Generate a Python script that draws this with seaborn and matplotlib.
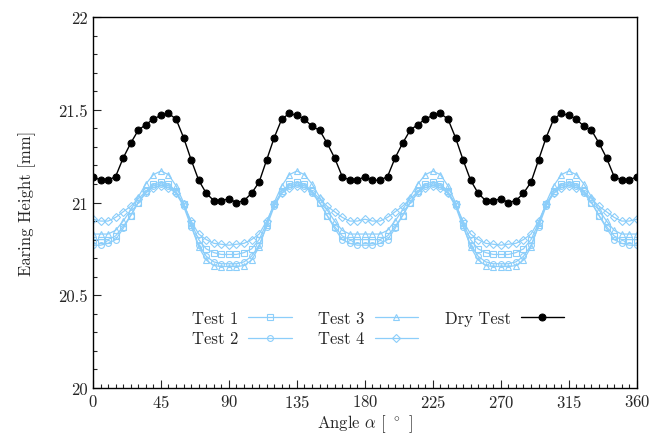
import numpy as np
import pandas as pd
import seaborn as sns
import matplotlib.pyplot as plt
from matplotlib.ticker import MultipleLocator

sns.set_style("ticks")
plt.rcParams["font.family"] = ["cmr10", "DejaVu Serif"]
plt.rcParams["mathtext.fontset"] = "cm"
plt.rcParams["axes.formatter.use_mathtext"] = True

# angles every 5 degrees
angle = list(range(0, 361, 5))

dry_test = [
    21.14, 21.12, 21.12, 21.14, 21.24, 21.32, 21.39, 21.42, 21.45, 21.47,
    21.48, 21.45, 21.35, 21.23, 21.12, 21.05, 21.01, 21.01, 21.02, 21.00,
    21.01, 21.05, 21.11, 21.23, 21.35, 21.45, 21.48, 21.47, 21.45, 21.41,
    21.39, 21.32, 21.24, 21.14, 21.12, 21.12, 21.14, 21.12, 21.12, 21.14,
    21.24, 21.32, 21.39, 21.42, 21.45, 21.47, 21.48, 21.45, 21.35, 21.23,
    21.12, 21.05, 21.01, 21.01, 21.02, 21.00, 21.01, 21.05, 21.11, 21.23,
    21.35, 21.45, 21.48, 21.47, 21.45, 21.41, 21.39, 21.32, 21.24, 21.14,
    21.12, 21.12, 21.14,
]
test_1 = [
    20.80, 20.80, 20.80, 20.82, 20.87, 20.93, 21.00, 21.06, 21.10, 21.11,
    21.10, 21.06, 20.99, 20.89, 20.80, 20.75, 20.73, 20.72, 20.72, 20.72,
    20.73, 20.75, 20.80, 20.89, 20.99, 21.06, 21.10, 21.11, 21.10, 21.06,
    21.00, 20.93, 20.87, 20.82, 20.80, 20.80, 20.80, 20.80, 20.80, 20.82,
    20.87, 20.93, 21.00, 21.06, 21.10, 21.11, 21.10, 21.06, 20.99, 20.89,
    20.80, 20.75, 20.73, 20.72, 20.72, 20.72, 20.73, 20.75, 20.80, 20.89,
    20.99, 21.06, 21.10, 21.11, 21.10, 21.06, 21.00, 20.93, 20.87, 20.82,
    20.80, 20.80, 20.80,
]
test_2 = [
    20.77, 20.77, 20.78, 20.80, 20.86, 20.93, 21.00, 21.05, 21.09, 21.10,
    21.09, 21.05, 20.98, 20.87, 20.77, 20.71, 20.68, 20.67, 20.67, 20.67,
    20.68, 20.71, 20.77, 20.87, 20.98, 21.05, 21.09, 21.10, 21.09, 21.05,
    21.00, 20.93, 20.86, 20.80, 20.78, 20.77, 20.77, 20.77, 20.78, 20.80,
    20.86, 20.93, 21.00, 21.05, 21.09, 21.10, 21.09, 21.05, 20.98, 20.87,
    20.77, 20.71, 20.68, 20.67, 20.67, 20.67, 20.68, 20.71, 20.77, 20.87,
    20.98, 21.05, 21.09, 21.10, 21.09, 21.05, 21.00, 20.93, 20.86, 20.80,
    20.78, 20.77, 20.77,
]
test_3 = [
    20.83, 20.83, 20.83, 20.85, 20.90, 20.96, 21.03, 21.10, 21.15, 21.17,
    21.15, 21.09, 21.00, 20.88, 20.76, 20.69, 20.66, 20.655, 20.655, 20.655,
    20.66, 20.69, 20.76, 20.88, 21.00, 21.09, 21.15, 21.17, 21.15, 21.10,
    21.03, 20.96, 20.90, 20.85, 20.83, 20.83, 20.83, 20.83, 20.83, 20.85,
    20.90, 20.96, 21.03, 21.10, 21.15, 21.17, 21.15, 21.09, 21.00, 20.88,
    20.76, 20.69, 20.66, 20.655, 20.655, 20.655, 20.66, 20.69, 20.76, 20.88,
    21.00, 21.09, 21.15, 21.17, 21.15, 21.10, 21.03, 20.96, 20.90, 20.85,
    20.83, 20.83, 20.83,
]
test_4 = [
    20.91, 20.90, 20.90, 20.92, 20.95, 20.98, 21.02, 21.06, 21.08, 21.09,
    21.08, 21.05, 20.99, 20.90, 20.83, 20.80, 20.78, 20.775, 20.77, 20.775,
    20.78, 20.80, 20.83, 20.90, 20.99, 21.05, 21.08, 21.09, 21.08, 21.06,
    21.02, 20.98, 20.95, 20.92, 20.90, 20.90, 20.91, 20.90, 20.90, 20.92,
    20.95, 20.98, 21.02, 21.06, 21.08, 21.09, 21.08, 21.05, 20.99, 20.90,
    20.83, 20.80, 20.78, 20.775, 20.77, 20.775, 20.78, 20.80, 20.83, 20.90,
    20.99, 21.05, 21.08, 21.09, 21.08, 21.06, 21.02, 20.98, 20.95, 20.92,
    20.90, 20.90, 20.91,
]

series_names = ["Test 1", "Test 2", "Test 3", "Test 4", "Dry Test"]
series_values = [test_1, test_2, test_3, test_4, dry_test]
markers = ["s", "o", "^", "D", "o"]

blue = "#8ccefa"

fig, ax = plt.subplots(figsize=(6.64, 4.35), dpi=100)
fig.subplots_adjust(left=0.140, right=0.959, top=0.9586, bottom=0.1057)

for name, vals, mk in zip(series_names, series_values, markers):
    df = pd.DataFrame({"angle": angle, "height": vals})
    if name == "Dry Test":
        sns.lineplot(data=df, x="angle", y="height", ax=ax, color="black",
                     marker="o", markersize=5, linewidth=1.0,
                     markeredgecolor="black", label=name)
    else:
        ms = 4.2 if mk != "D" else 3.6
        sns.lineplot(data=df, x="angle", y="height", ax=ax, color=blue,
                     marker=mk, markersize=ms, linewidth=0.9,
                     markerfacecolor="none", markeredgecolor=blue,
                     markeredgewidth=0.8, label=name)

ax.set_xlim(0, 360)
ax.set_ylim(20, 22)
ax.set_xticks(range(0, 361, 45))
ax.set_yticks([20, 20.5, 21, 21.5, 22])
ax.set_yticklabels(["20", "20.5", "21", "21.5", "22"])
ax.xaxis.set_minor_locator(MultipleLocator(5))
ax.yaxis.set_minor_locator(MultipleLocator(0.1))
ax.tick_params(which="both", direction="in", top=False, right=False,
               labelsize=12, width=0.8)
ax.tick_params(which="major", length=6)
ax.tick_params(which="minor", length=3)
for sp in ax.spines.values():
    sp.set_linewidth(1.0)
    sp.set_color("black")

ax.set_xlabel(r"Angle $\alpha$ [ $^\circ$ ]", fontsize=12, labelpad=2)
ax.set_ylabel("Earing Height [mm]", fontsize=12, labelpad=16)

ax.legend(loc="center", bbox_to_anchor=(0.524, 0.16), ncol=3, frameon=False,
          markerfirst=False, fontsize=12, handlelength=2.6,
          columnspacing=1.6, labelspacing=0.3, handletextpad=0.6)

fig.savefig("out.png", dpi=100)
